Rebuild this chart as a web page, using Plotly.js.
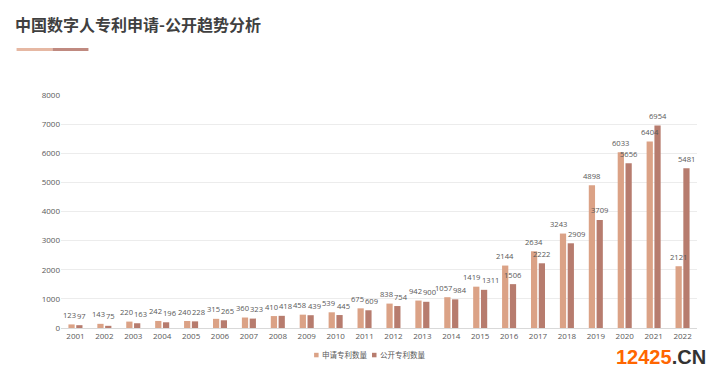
<!DOCTYPE html>
<html>
<head>
<meta charset="utf-8">
<script src="https://cdn.plot.ly/plotly-3.0.1.min.js"></script>
<style>
html,body{margin:0;padding:0;background:#fff;}
#chart{width:720px;height:379px;}
</style>
</head>
<body>
<div id="chart"></div>
<script>
const years = ['2001','2002','2003','2004','2005','2006','2007','2008','2009','2010','2011','2012','2013','2014','2015','2016','2017','2018','2019','2020','2021','2022'];
const applied = [123,143,220,242,240,315,360,410,458,539,675,838,942,1057,1419,2144,2634,3243,4898,6033,6404,2121];
const published = [97,75,163,196,228,265,323,418,439,445,609,754,900,984,1311,1506,2222,2909,3709,5656,6954,5481];
const seriesNames = ['申请专利数量','公开专利数量'];
const titleText = '中国数字人专利申请-公开趋势分析';

const font = 'Open Sans, Noto Sans CJK SC, sans-serif';
const c1 = '#dba286';
const c2 = '#b77c6e';

// plot area in pixels
const L = 60.5, R = 697.5, T = 95, B = 328;
const px = x => (x - L) / (R - L);
const py = y => (B - y) / (B - T);
const YMAX = 8000;
const bargap = 0.46, bargroupgap = 0.2;
const catW = (R - L) / years.length;
const off = catW * (1 - bargap) / 4;     // bar centre offset from category centre
const lblSize = 7.6;
const digitW = 0.58 * lblSize;
const pxPerUnit = (B - T) / YMAX;

const traces = [
  {type:'bar', x:years, y:applied, name:seriesNames[0], marker:{color:c1}, hoverinfo:'skip'},
  {type:'bar', x:years, y:published, name:seriesNames[1], marker:{color:c2}, hoverinfo:'skip'}
];

// data labels, nudged apart when they would collide (like the source's smart labels)
const labelAnns = [];
years.forEach((yr, i) => {
  const a = applied[i], p = published[i];
  const wa = String(a).length * digitW, wp = String(p).length * digitW;
  let sa = -off, sp = off;
  const dy = Math.abs(a - p) * pxPerUnit;
  const need = (wa + wp) / 2 + 1;
  if (dy < 10 && (sp - sa) < need) {
    const extra = need - (sp - sa);
    sa -= extra * 0.45; sp += extra * 0.55;
  }
  labelAnns.push({x:i, y:a, xref:'x', yref:'y', text:String(a), showarrow:false,
    yanchor:'bottom', xanchor:'center', xshift:sa, yshift:2.5,
    font:{size:lblSize, color:'#595959', family:font}});
  labelAnns.push({x:i, y:p, xref:'x', yref:'y', text:String(p), showarrow:false,
    yanchor:'bottom', xanchor:'center', xshift:sp, yshift:2.5,
    font:{size:lblSize, color:'#595959', family:font}});
});

const layout = {
  width:720, height:379,
  margin:{l:L, r:720-R, t:T, b:379-B},
  paper_bgcolor:'#fff', plot_bgcolor:'#fff',
  font:{family:font, size:8, color:'#595959'},
  barmode:'group', bargap:bargap, bargroupgap:bargroupgap,
  showlegend:false,
  xaxis:{type:'category', range:[-0.5, years.length - 0.5], tickfont:{size:8, color:'#595959'}, showgrid:false,
         showline:true, linecolor:'#d9d9d9', linewidth:1, ticks:'', fixedrange:true},
  yaxis:{range:[0,YMAX], dtick:1000, tickfont:{size:8, color:'#595959'},
         gridcolor:'#ececec', gridwidth:1, zeroline:false, showline:false, ticks:'',
         tickformat:'d', fixedrange:true},
  annotations:[
    {text:'<b>'+titleText+'</b>', xref:'paper', yref:'paper', x:px(12), xanchor:'left',
     y:py(24), yanchor:'middle', showarrow:false,
     font:{size:16, color:'#404040', family:'Noto Sans CJK SC, sans-serif'}},
    {text:seriesNames[0], xref:'paper', yref:'paper', x:px(320), xanchor:'left',
     y:py(355), yanchor:'middle', showarrow:false, font:{size:7.5, color:'#595959', family:font}},
    {text:seriesNames[1], xref:'paper', yref:'paper', x:px(378), xanchor:'left',
     y:py(355), yanchor:'middle', showarrow:false, font:{size:7.5, color:'#595959', family:font}},
    {text:'<b><span style="color:#ff6600">12425</span><span style="color:#333333">.CN</span></b>',
     xref:'paper', yref:'paper', x:px(709), xanchor:'right', y:py(357), yanchor:'middle',
     showarrow:false, font:{size:20, family:'Liberation Sans, Arial, sans-serif'}}
  ].concat(labelAnns),
  shapes:[
    {type:'rect', xref:'paper', yref:'paper', x0:px(16), x1:px(52),
     y0:py(51), y1:py(48), fillcolor:'#e6b8a3', line:{width:0}},
    {type:'rect', xref:'paper', yref:'paper', x0:px(52), x1:px(88),
     y0:py(51), y1:py(48), fillcolor:'#c08a80', line:{width:0}},
    {type:'rect', xref:'paper', yref:'paper', x0:px(314), x1:px(318.5),
     y0:py(357.3), y1:py(352.8), fillcolor:c1, line:{width:0}},
    {type:'rect', xref:'paper', yref:'paper', x0:px(372), x1:px(376.5),
     y0:py(357.3), y1:py(352.8), fillcolor:c2, line:{width:0}}
  ]
};

Plotly.newPlot('chart', traces, layout, {displayModeBar:false, staticPlot:true});
</script>
</body>
</html>
